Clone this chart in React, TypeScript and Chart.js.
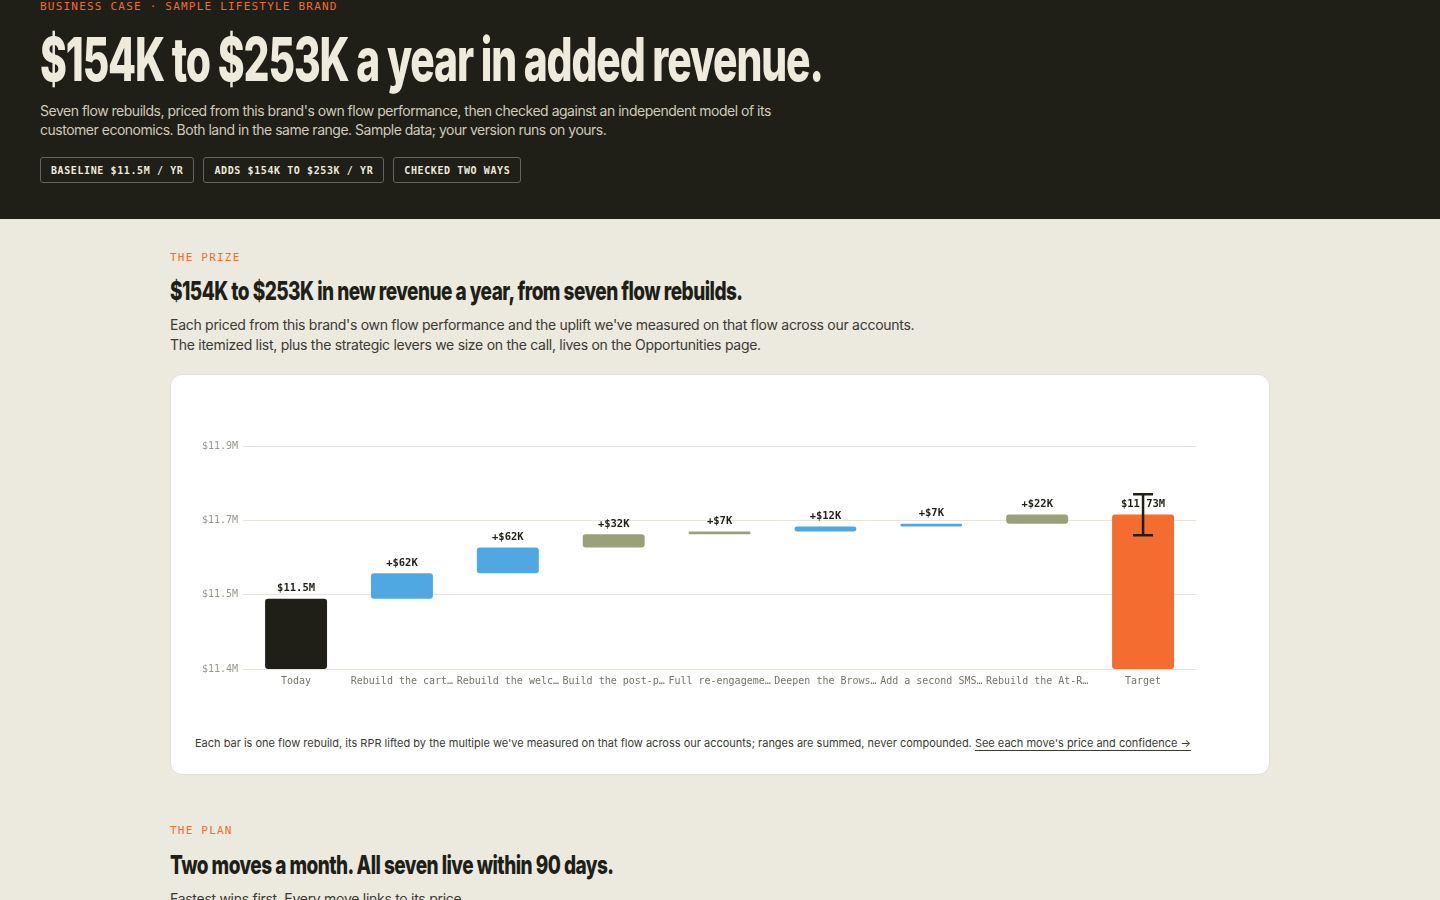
import React, { useEffect, useRef } from 'react';
import { Chart, registerables, Plugin } from 'chart.js';

Chart.register(...registerables);

// values in $M
const categories = [
  'Today',
  'Rebuild the cart abandonment flow',
  'Rebuild the welcome series',
  'Build the post-purchase flow',
  'Full re-engagement program',
  'Deepen the Browse abandonment flow',
  'Add a second SMS touch',
  'Rebuild the At-Risk winback flow',
  'Target',
];
const baseline = 11.526;
const increments = [0.062, 0.062, 0.032, 0.007, 0.012, 0.007, 0.022];
const incrementColors = ['#4FA8E1', '#4FA8E1', '#9AA17A', '#9AA17A', '#4FA8E1', '#4FA8E1', '#9AA17A'];
const rangeLow = 0.154;
const rangeHigh = 0.253;
const yTicks = [11.356, 11.536, 11.716, 11.896];

const DARK = '#201F17';
const ORANGE = '#F46C2F';
const MONO = '"DejaVu Sans Mono", "Liberation Mono", monospace';
const SANS = 'Inter, "Noto Sans", sans-serif';

document.body.style.margin = '0';
document.body.style.background = '#ECE9DF';

// build waterfall ranges
const bars: [number, number][] = [];
const barLabels: string[] = [];
bars.push([yTicks[0], baseline]);
barLabels.push('$' + baseline.toFixed(1) + 'M');
let running = baseline;
increments.forEach((inc) => {
  bars.push([running, running + inc]);
  barLabels.push('+$' + Math.round(inc * 1000) + 'K');
  running += inc;
});
bars.push([yTicks[0], running]);
barLabels.push('$' + running.toFixed(2) + 'M');
const barColors = [DARK, ...incrementColors, ORANGE];

const truncate = (s: string) => (s.length > 17 ? s.slice(0, 16) + '…' : s);

const labelsAndErrorBar: Plugin = {
  id: 'labelsAndErrorBar',
  afterDatasetsDraw(chart) {
    const { ctx } = chart;
    const meta = chart.getDatasetMeta(0);
    const y = chart.scales.y;
    ctx.save();
    ctx.font = `bold 10.5px ${MONO}`;
    ctx.fillStyle = DARK;
    ctx.textAlign = 'center';
    ctx.textBaseline = 'bottom';
    meta.data.forEach((el: any, i) => {
      const top = y.getPixelForValue(bars[i][1]);
      ctx.fillText(barLabels[i], el.x, top - 5);
    });
    // range whisker on target
    const last: any = meta.data[meta.data.length - 1];
    const yLo = y.getPixelForValue(baseline + rangeLow);
    const yHi = y.getPixelForValue(baseline + rangeHigh);
    ctx.strokeStyle = DARK;
    ctx.lineWidth = 2.5;
    ctx.beginPath();
    ctx.moveTo(last.x, yLo);
    ctx.lineTo(last.x, yHi);
    ctx.moveTo(last.x - 10, yLo);
    ctx.lineTo(last.x + 10, yLo);
    ctx.moveTo(last.x - 10, yHi);
    ctx.lineTo(last.x + 10, yHi);
    ctx.stroke();
    ctx.restore();
  },
};

const WaterfallChart: React.FC = () => {
  const canvasRef = useRef<HTMLCanvasElement>(null);

  useEffect(() => {
    if (!canvasRef.current) return;
    const chart = new Chart(canvasRef.current, {
      type: 'bar',
      data: {
        labels: categories,
        datasets: [
          {
            data: bars as any,
            backgroundColor: barColors,
            borderRadius: 3,
            borderSkipped: false,
            barPercentage: 0.65,
            categoryPercentage: 0.9,
          },
        ],
      },
      options: {
        animation: false,
        responsive: true,
        maintainAspectRatio: false,
        layout: { padding: { top: 47, left: 2, right: 49, bottom: 6 } },
        plugins: { legend: { display: false }, tooltip: { enabled: false } },
        scales: {
          x: {
            grid: { display: false, drawTicks: false },
            border: { display: false },
            ticks: {
              padding: 6,
              color: '#77746A',
              font: { family: MONO, size: 10 },
              maxRotation: 0,
              autoSkip: false,
              callback: (_v, i) => truncate(categories[i]),
            },
          },
          y: {
            min: yTicks[0],
            max: yTicks[yTicks.length - 1],
            afterBuildTicks: (scale) => {
              scale.ticks = yTicks.map((v) => ({ value: v }));
            },
            border: { display: false },
            grid: { color: '#E7E4DB', drawTicks: false, lineWidth: 1 },
            ticks: {
              padding: 5,
              color: '#9A978D',
              font: { family: MONO, size: 10 },
              callback: (v) => '$' + Number(v).toFixed(1) + 'M',
            },
          },
        },
      },
      plugins: [labelsAndErrorBar],
    });
    return () => chart.destroy();
  }, []);

  return (
    <div style={{ position: 'relative', height: 300 }}>
      <canvas ref={canvasRef} />
    </div>
  );
};

const eyebrow: React.CSSProperties = {
  fontFamily: MONO,
  fontSize: 11,
  letterSpacing: '0.11em',
  color: ORANGE,
  lineHeight: '13px',
};

const condensed = (size: number, color: string, sx: number): React.CSSProperties => ({
  fontFamily: SANS,
  fontWeight: 800,
  fontSize: size,
  letterSpacing: '-0.028em',
  color,
  whiteSpace: 'nowrap',
  transform: `scaleX(${sx})`,
  transformOrigin: 'left center',
  lineHeight: 1,
});

const pill: React.CSSProperties = {
  fontFamily: MONO,
  fontWeight: 700,
  fontSize: 10,
  letterSpacing: '0.06em',
  color: '#EEEADC',
  border: '1px solid #66645A',
  borderRadius: 3,
  height: 26,
  boxSizing: 'border-box',
  padding: '0 10px',
  display: 'flex',
  alignItems: 'center',
};

const body: React.CSSProperties = {
  fontSize: 14,
  letterSpacing: '-0.02em',
};

const App: React.FC = () => {
  return (
    <div style={{ fontFamily: SANS, background: '#ECE9DF', minHeight: 900 }}>
      <div style={{ background: '#1F1E17', height: 219, padding: '0 40px', boxSizing: 'border-box' }}>
        <div style={eyebrow}>BUSINESS CASE · SAMPLE LIFESTYLE BRAND</div>
        <div style={{ ...condensed(60, '#EEEADC', 0.68), marginTop: 16 }}>$154K to $253K a year in added revenue.</div>
        <div style={{ ...body, letterSpacing: '-0.035em', color: '#CFCBBC', lineHeight: '19px', marginTop: 12, maxWidth: 740 }}>
          Seven flow rebuilds, priced from this brand's own flow performance, then checked against an independent model of its customer economics. Both land in the same range. Sample data; your version runs on yours.
        </div>
        <div style={{ display: 'flex', gap: 9, marginTop: 18 }}>
          <div style={pill}>BASELINE $11.5M / YR</div>
          <div style={pill}>ADDS $154K TO $253K / YR</div>
          <div style={pill}>CHECKED TWO WAYS</div>
        </div>
      </div>

      <div style={{ width: 1100, margin: '0 auto', paddingTop: 32 }}>
        <div style={eyebrow}>THE PRIZE</div>
        <div style={{ ...condensed(26, '#201F17', 0.73), marginTop: 14 }}>
          $154K to $253K in new revenue a year, from seven flow rebuilds.
        </div>
        <div style={{ ...body, color: '#3B3A33', lineHeight: '20px', marginTop: 11 }}>
          Each priced from this brand's own flow performance and the uplift we've measured on that flow across our accounts.
          <br />
          The itemized list, plus the strategic levers we size on the call, lives on the Opportunities page.
        </div>
        <div
          style={{
            marginTop: 19,
            background: '#FFFFFF',
            border: '1px solid #E2DFD4',
            borderRadius: 12,
            padding: 24,
            height: 401,
            boxSizing: 'border-box',
          }}
        >
          <WaterfallChart />
          <div style={{ marginTop: 37, fontSize: 11, lineHeight: '14px', color: '#3B3A33' }}>
            Each bar is one flow rebuild, its RPR lifted by the multiple we've measured on that flow across our accounts; ranges are summed, never compounded.{' '}
            <span style={{ textDecoration: 'underline', textUnderlineOffset: 3 }}>See each move's price and confidence →</span>
          </div>
        </div>

        <div style={{ ...eyebrow, marginTop: 49 }}>THE PLAN</div>
        <div style={{ ...condensed(26, '#201F17', 0.73), marginTop: 15 }}>Two moves a month. All seven live within 90 days.</div>
        <div style={{ ...body, color: '#3B3A33', lineHeight: '20px', marginTop: 11 }}>
          Fastest wins first. Every move links to its price.
        </div>
      </div>
    </div>
  );
};

export default App;
